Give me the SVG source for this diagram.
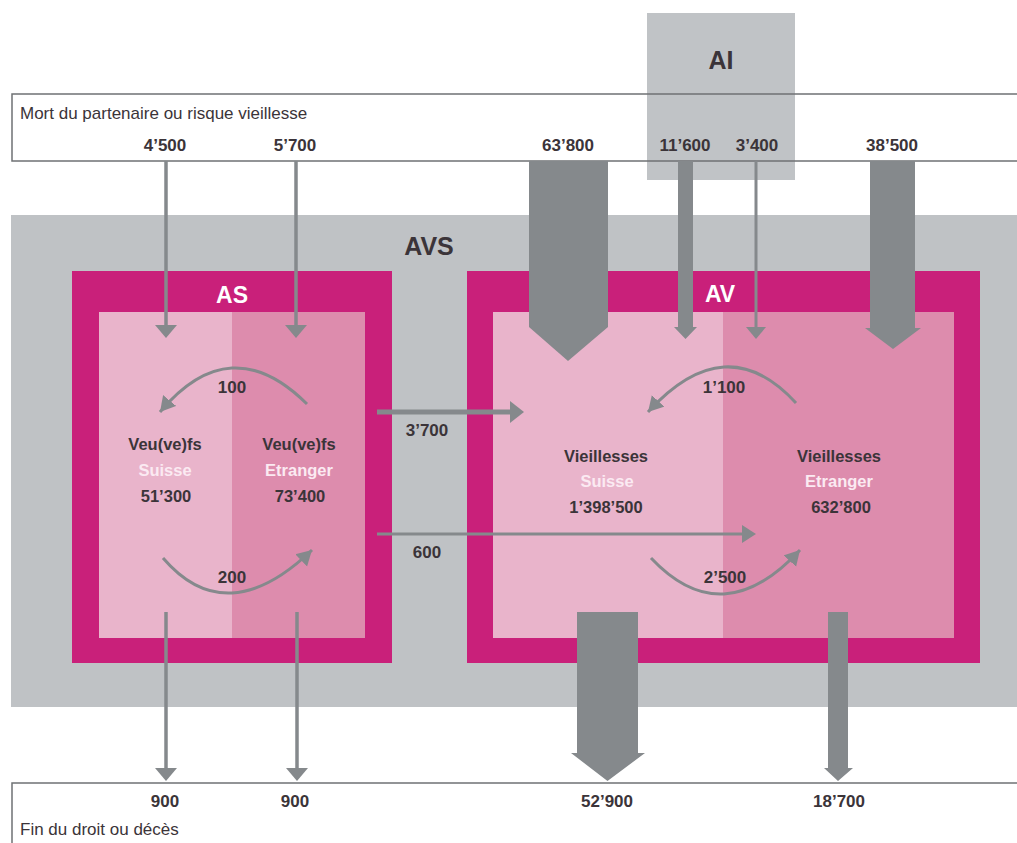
<svg xmlns="http://www.w3.org/2000/svg" width="1017" height="843" viewBox="0 0 1017 843">
<style>
text{font-family:"Liberation Sans",Arial,sans-serif;fill:#3b3439}
.num{font-size:17px;font-weight:bold;text-anchor:middle}
.lbl{font-size:16.5px;font-weight:bold;text-anchor:middle}
.wh{fill:#fbeaf2}
.title{font-size:25px;font-weight:bold;text-anchor:middle}
.box{font-size:23px;font-weight:bold;text-anchor:middle;fill:#ffffff}
.band{font-size:17px}
.thin{stroke:#85898c;stroke-width:3.5;fill:none}
.curve{stroke:#85898c;stroke-width:3;fill:none}
.big{fill:#85898c}
.mag{fill:#c9207a}
.lt{fill:#e9b4cb}
.dk{fill:#dd8cad}
</style>
<defs>
<marker id="ah" markerUnits="userSpaceOnUse" markerWidth="17" markerHeight="18" refX="15" refY="8.5" orient="auto" viewBox="0 0 17 17">
<path d="M0,0 L15,8.5 L0,17 Z" fill="#85898c"/>
</marker>
</defs>
<g id="band-top">
<rect x="12" y="94" width="1010" height="67" fill="#ffffff"/>
</g>
<g id="AI">
<rect x="647" y="13" width="148" height="167" fill="#c0c3c6"/>
<text class="title" x="721" y="69">AI</text>
</g>
<g id="band-top-lines">
<path d="M1017,94 H12 V161 H1017" fill="none" stroke="#6f7274" stroke-width="1.5"/>
<text class="band" x="20" y="119">Mort du partenaire ou risque vieillesse</text>
<text class="num" x="165" y="151">4’500</text>
<text class="num" x="295" y="151">5’700</text>
<text class="num" x="568" y="151">63’800</text>
<text class="num" x="685" y="151">11’600</text>
<text class="num" x="757" y="151">3’400</text>
<text class="num" x="892" y="151">38’500</text>
</g>
<g id="AVS">
<rect x="11" y="215" width="1010" height="492" fill="#bfc2c5"/>
<text class="title" x="429" y="255">AVS</text>
</g>
<g id="AS">
<rect class="mag" x="72" y="271" width="320" height="392"/>
<rect class="lt" x="99" y="312" width="133" height="326"/>
<rect class="dk" x="232" y="312" width="133" height="326"/>
<text class="box" x="232" y="303">AS</text>
<text class="lbl" x="165" y="450">Veu(ve)fs</text>
<text class="lbl wh" x="165" y="476">Suisse</text>
<text class="lbl" x="166" y="502">51’300</text>
<text class="lbl" x="299" y="450">Veu(ve)fs</text>
<text class="lbl wh" x="299" y="476">Etranger</text>
<text class="lbl" x="300" y="502">73’400</text>
</g>
<g id="AV">
<rect class="mag" x="467" y="271" width="513" height="392"/>
<rect class="lt" x="493" y="312" width="230" height="326"/>
<rect class="dk" x="723" y="312" width="231" height="326"/>
<text class="box" x="720" y="302">AV</text>
<text class="lbl" x="606" y="462">Vieillesses</text>
<text class="lbl wh" x="607" y="487">Suisse</text>
<text class="lbl" x="606" y="513">1’398’500</text>
<text class="lbl" x="839" y="462">Vieillesses</text>
<text class="lbl wh" x="839" y="487">Etranger</text>
<text class="lbl" x="841" y="513">632’800</text>
</g>
<g id="band-bottom">
<rect x="12" y="783" width="1010" height="70" fill="#ffffff"/>
<path d="M1017,783 H12 V843" fill="none" stroke="#6f7274" stroke-width="1.5"/>
<text class="num" x="165" y="807">900</text>
<text class="num" x="295" y="807">900</text>
<text class="num" x="607" y="807">52’900</text>
<text class="num" x="839" y="807">18’700</text>
<text class="band" x="20" y="835">Fin du droit ou décès</text>
</g>
<g id="connectors">
<line class="thin" x1="166" y1="161" x2="166" y2="326"/>
<polygon class="big" points="155,325 177,325 166,338"/>
<line class="thin" x1="296" y1="161" x2="296" y2="326"/>
<polygon class="big" points="285,325 307,325 296,338"/>
<polygon class="big" points="529,161 608,161 608,327 568,361 529,327"/>
<polygon class="big" points="678,161 693,161 693,327 697,327 685.5,339 674,327 678,327"/>
<line class="thin" x1="756" y1="161" x2="756" y2="328" style="stroke-width:3"/>
<polygon class="big" points="746,327 766,327 756,339"/>
<polygon class="big" points="870,161 915,161 915,328 921,328 893,349 865,328 870,328"/>
<line class="thin" x1="377" y1="412" x2="512" y2="412" style="stroke-width:5"/>
<polygon class="big" points="510,401 524,412 510,423"/>
<line class="thin" x1="377" y1="534" x2="744" y2="534" style="stroke-width:3"/>
<polygon class="big" points="742,525 756,534 742,543"/>
<path class="curve" d="M307,404 Q230.5,328 160,412" marker-end="url(#ah)"/>
<path class="curve" d="M163,558 Q226.5,632 312,550" marker-end="url(#ah)"/>
<path class="curve" d="M796,403 Q726,326.5 648,412" marker-end="url(#ah)"/>
<path class="curve" d="M651,558 Q722.5,634 800,550" marker-end="url(#ah)"/>
<line class="thin" x1="166" y1="612" x2="166" y2="770"/>
<polygon class="big" points="155,768 177,768 166,781"/>
<line class="thin" x1="297" y1="612" x2="297" y2="770"/>
<polygon class="big" points="286,768 308,768 297,781"/>
<polygon class="big" points="577,612 638,612 638,753 645,753 607.5,781 571,753 577,753"/>
<polygon class="big" points="828,612 848,612 848,768 853,768 838,781 824,768 828,768"/>
<text class="num" x="232" y="393">100</text>
<text class="num" x="232" y="583">200</text>
<text class="num" x="724" y="393">1’100</text>
<text class="num" x="725" y="583">2’500</text>
<text class="num" x="427" y="436">3’700</text>
<text class="num" x="427" y="558">600</text>
</g>
</svg>
